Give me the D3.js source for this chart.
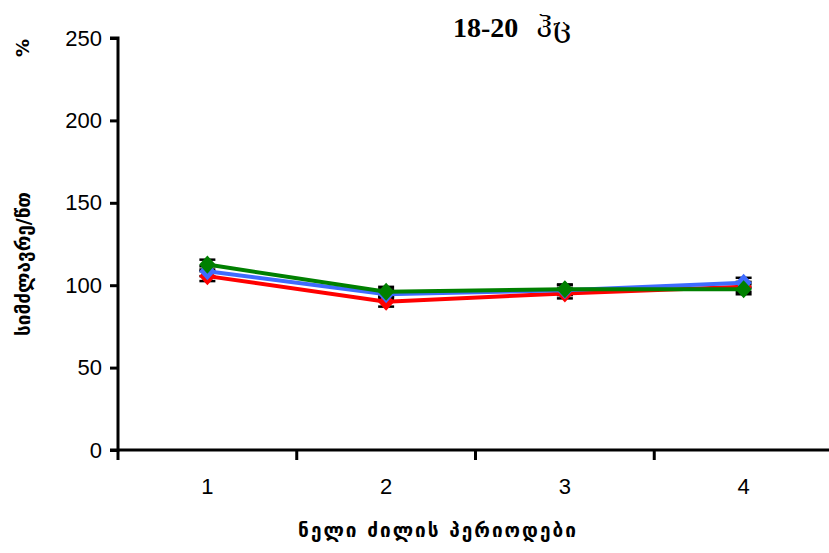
<!DOCTYPE html>
<html>
<head>
<meta charset="utf-8">
<script src="https://cdn.jsdelivr.net/npm/d3@7"></script>
<style>
  body { margin: 0; background: #fff; }
  svg { display: block; }
</style>
</head>
<body>
<svg id="chart" width="829" height="553"></svg>
<script>
// Slow-wave sleep periods and relative power (%) for the 18-20 Hz band
const periods = ["1", "2", "3", "4"];
const redValues = [105.5, 90, 95, 99];
const blueValues = [108.5, 94.5, 97, 101.5];
const greenValues = [112.5, 96, 97.5, 97.5];
const redErr = [3, 3, 3, 3];
const blueErr = [3, 3, 3, 3];
const greenErr = [3, 3, 3, 3];
const yTicks = [0, 50, 100, 150, 200, 250];

const series = [
  { name: "red", color: "#ff0000", values: redValues, err: redErr },
  { name: "blue", color: "#3f6bff", values: blueValues, err: blueErr },
  { name: "green", color: "#008000", values: greenValues, err: greenErr }
];

const svg = d3.select("#chart");
const plotLeft = 118, plotRight = 833, plotTop = 38, plotBottom = 450;

const x = d3.scaleBand().domain(periods).range([plotLeft, plotRight]).padding(0);
const y = d3.scaleLinear().domain([0, 250]).range([plotBottom, plotTop]);

// Y axis
const yAxis = d3.axisLeft(y).tickValues(yTicks).tickSize(8).tickPadding(8);
const gy = svg.append("g").attr("transform", `translate(${plotLeft},0)`).call(yAxis);
gy.select(".domain").attr("stroke", "#000").attr("stroke-width", 3).attr("d", `M-8,${plotBottom}H0V${plotTop}H-8`);
gy.selectAll(".tick line").attr("stroke", "#000").attr("stroke-width", 3);
gy.selectAll(".tick text").attr("font-family", "Liberation Sans, Arial, sans-serif").attr("font-size", 22).attr("fill", "#000");

// X axis with ticks between categories
const xAxis = d3.axisBottom(x).tickSize(0).tickPadding(28);
const gx = svg.append("g").attr("transform", `translate(0,${plotBottom})`).call(xAxis);
gx.select(".domain").attr("stroke", "#000").attr("stroke-width", 3).attr("d", `M${plotLeft},0H${plotRight}`);
gx.selectAll(".tick text").attr("font-family", "Liberation Sans, Arial, sans-serif").attr("font-size", 22).attr("fill", "#000");
gx.selectAll(".sep").data(periods).enter().append("line")
  .attr("x1", d => x(d)).attr("x2", d => x(d))
  .attr("y1", 0).attr("y2", 10)
  .attr("stroke", "#000").attr("stroke-width", 3);

const cx = d => x(d) + x.bandwidth() / 2;
const line = d3.line().x(d => cx(d.p)).y(d => y(d.v));

// Error bars
series.forEach(s => {
  const g = svg.append("g");
  s.values.forEach((v, i) => {
    const p = periods[i], e = s.err[i];
    g.append("line").attr("x1", cx(p)).attr("x2", cx(p)).attr("y1", y(v - e)).attr("y2", y(v + e))
      .attr("stroke", "#000").attr("stroke-width", 2);
    [v - e, v + e].forEach(t => {
      g.append("line").attr("x1", cx(p) - 8).attr("x2", cx(p) + 8).attr("y1", y(t)).attr("y2", y(t))
        .attr("stroke", "#000").attr("stroke-width", 2.5);
    });
  });
});

// Lines with diamond markers
series.forEach(s => {
  const pts = s.values.map((v, i) => ({ p: periods[i], v }));
  svg.append("path").datum(pts).attr("d", line)
    .attr("fill", "none").attr("stroke", s.color).attr("stroke-width", 4);
  svg.selectAll(null).data(pts).enter().append("path")
    .attr("d", d3.symbol().type(d3.symbolSquare).size(135))
    .attr("transform", d => `translate(${cx(d.p)},${y(d.v)}) scale(1,1.1) rotate(45)`)
    .attr("fill", s.color);
});

// Title
const title = svg.append("text").attr("x", 512).attr("y", 37).attr("text-anchor", "middle")
  .attr("font-family", "Liberation Serif, Times New Roman, serif").attr("font-weight", "bold")
  .attr("font-size", 28);
title.append("tspan").text("18-20");
title.append("tspan").attr("dx", 18).attr("font-family", "DejaVu Serif, serif").attr("font-weight", "normal").text("ჰც");

// Y axis titles
svg.append("text").attr("transform", "translate(29,48) rotate(-90)").attr("text-anchor", "middle")
  .attr("font-family", "DejaVu Sans, sans-serif").attr("font-weight", "bold").attr("font-size", 18).text("%");
svg.append("text").attr("transform", "translate(30,264) rotate(-90)").attr("text-anchor", "middle")
  .attr("font-family", "DejaVu Sans, sans-serif").attr("font-weight", "bold").attr("font-size", 19)
  .text("სიმძლავრე/წთ");

// X axis title
svg.append("text").attr("x", 438).attr("y", 537).attr("text-anchor", "middle")
  .attr("font-family", "DejaVu Sans, sans-serif").attr("font-weight", "bold").attr("font-size", 19)
  .attr("letter-spacing", 2).text("ნელი ძილის პერიოდები");
</script>
</body>
</html>
